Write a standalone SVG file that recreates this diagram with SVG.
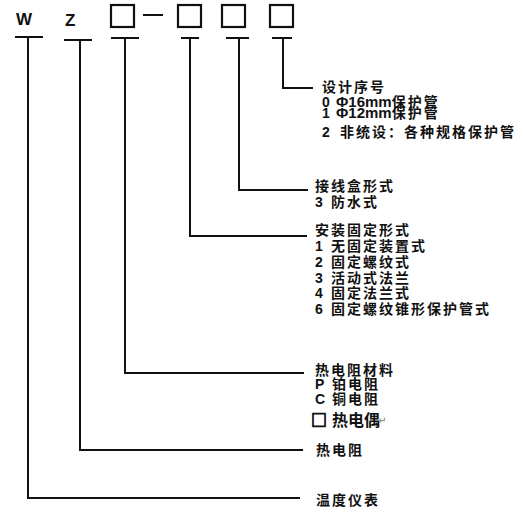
<svg xmlns="http://www.w3.org/2000/svg" width="523" height="518" viewBox="0 0 523 518">
<style>
.t{font-family:"Liberation Sans","Noto Sans CJK SC",sans-serif;font-weight:bold;font-size:14px;letter-spacing:2px;fill:#111}
.n{letter-spacing:0}
.h{font-family:"Liberation Sans","Noto Sans CJK SC",sans-serif;font-weight:bold;font-size:17px;fill:#111}
.ln{stroke:#111;stroke-width:2;fill:none}
.bx{stroke:#111;stroke-width:2.2;fill:none}
.pm{font-family:"DejaVu Sans",sans-serif;font-size:10px;fill:#999}
</style>
<rect width="523" height="518" fill="#fff"/>
<g id="code">
<text class="h" x="16" y="25">W</text>
<text class="h" x="65" y="26">Z</text>
<rect class="bx" x="111" y="5" width="23" height="22"/>
<line class="ln" x1="143" y1="15" x2="163" y2="15"/>
<rect class="bx" x="178" y="5" width="23" height="22"/>
<rect class="bx" x="222" y="5" width="23" height="22"/>
<rect class="bx" x="270" y="5" width="23" height="22"/>
</g>
<g id="connectors" class="ln">
<path d="M15 37H43M28 37V498H300"/>
<path d="M64 40H92M80 40V450H303"/>
<path d="M111 38H139M125 38V373H304"/>
<path d="M181 38H199M190 38V236H307"/>
<path d="M226 38H249M239 38V190H308"/>
<path d="M272 38H292M283 38V88H313"/>
</g>
<g id="label-design" class="t">
<text x="322" y="92">设计序号</text>
<text x="322" y="107"><tspan class="n">0</tspan><tspan class="n" x="336" font-size="15">Φ16mm</tspan>保护管</text>
<text x="322" y="118"><tspan class="n">1</tspan><tspan class="n" x="336" font-size="15">Φ12mm</tspan>保护管</text>
<text x="322" y="137"><tspan class="n">2</tspan><tspan x="340">非统设：各种规格保护管</tspan></text>
</g>
<g id="label-box" class="t">
<text x="315" y="191">接线盒形式</text>
<text x="315" y="207"><tspan class="n">3</tspan><tspan x="331">防水式</tspan></text>
</g>
<g id="label-mount" class="t">
<text x="315" y="235">安装固定形式</text>
<text x="315" y="251"><tspan class="n">1</tspan><tspan x="331">无固定装置式</tspan></text>
<text x="315" y="267"><tspan class="n">2</tspan><tspan x="331">固定螺纹式</tspan></text>
<text x="315" y="283"><tspan class="n">3</tspan><tspan x="331">活动式法兰</tspan></text>
<text x="315" y="298"><tspan class="n">4</tspan><tspan x="331">固定法兰式</tspan></text>
<text x="315" y="314"><tspan class="n">6</tspan><tspan x="331">固定螺纹锥形保护管式</tspan></text>
</g>
<g id="label-material" class="t">
<text x="315" y="375">热电阻材料</text>
<text x="315" y="389"><tspan class="n">P</tspan><tspan x="332">铂电阻</tspan></text>
<text x="315" y="404"><tspan class="n">C</tspan><tspan x="332">铜电阻</tspan></text>
<text x="311" y="426" font-size="16" stroke="#111" stroke-width="0.9" style="letter-spacing:0;font-family:'Noto Sans CJK SC',sans-serif">□</text>
<text x="332" y="426" font-size="16" style="letter-spacing:0">热电偶</text>
<text class="pm" x="378" y="424" style="letter-spacing:0">↵</text>
</g>
<g id="label-rtd" class="t">
<text x="316" y="455">热电阻</text>
</g>
<g id="label-instrument" class="t">
<text x="316" y="505">温度仪表</text>
</g>
</svg>
